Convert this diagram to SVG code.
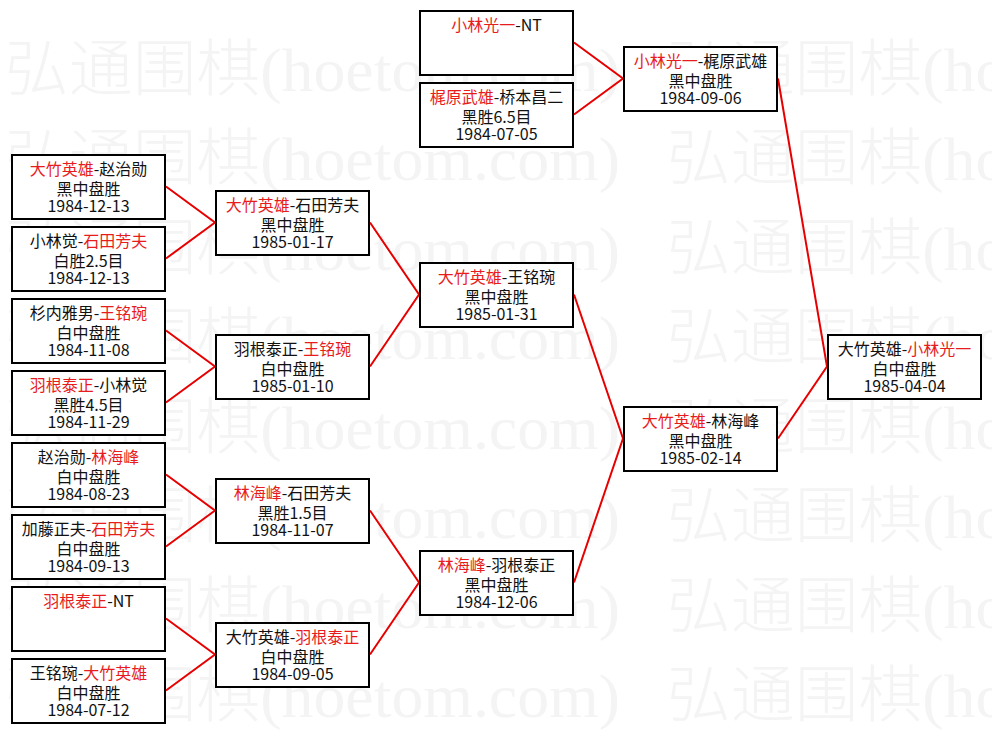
<svg xmlns="http://www.w3.org/2000/svg" width="992" height="733" viewBox="0 0 992 733">
<style>
.wm{font-family:"Liberation Serif","Noto Sans CJK SC",serif;font-size:62px;font-weight:300;fill:#f4f4f4}
.box{fill:#ffffff;stroke:#000000;stroke-width:2}
.t{font-family:"Noto Sans CJK SC",sans-serif;font-size:16px;fill:#111111;text-anchor:middle}
.r{fill:#e81c1c}
.ln{stroke:#e80000;stroke-width:2;fill:none}
</style>
<rect x="0" y="0" width="992" height="733" fill="#ffffff"/>
<g id="watermark">
<text class="wm" x="5" y="91" textLength="615" lengthAdjust="spacingAndGlyphs">弘通围棋(hoetom.com)</text>
<text class="wm" x="667" y="91" textLength="615" lengthAdjust="spacingAndGlyphs">弘通围棋(hoetom.com)</text>
<text class="wm" x="5" y="180" textLength="615" lengthAdjust="spacingAndGlyphs">弘通围棋(hoetom.com)</text>
<text class="wm" x="667" y="180" textLength="615" lengthAdjust="spacingAndGlyphs">弘通围棋(hoetom.com)</text>
<text class="wm" x="5" y="270" textLength="615" lengthAdjust="spacingAndGlyphs">弘通围棋(hoetom.com)</text>
<text class="wm" x="667" y="270" textLength="615" lengthAdjust="spacingAndGlyphs">弘通围棋(hoetom.com)</text>
<text class="wm" x="5" y="359" textLength="615" lengthAdjust="spacingAndGlyphs">弘通围棋(hoetom.com)</text>
<text class="wm" x="667" y="359" textLength="615" lengthAdjust="spacingAndGlyphs">弘通围棋(hoetom.com)</text>
<text class="wm" x="5" y="449" textLength="615" lengthAdjust="spacingAndGlyphs">弘通围棋(hoetom.com)</text>
<text class="wm" x="667" y="449" textLength="615" lengthAdjust="spacingAndGlyphs">弘通围棋(hoetom.com)</text>
<text class="wm" x="5" y="538" textLength="615" lengthAdjust="spacingAndGlyphs">弘通围棋(hoetom.com)</text>
<text class="wm" x="667" y="538" textLength="615" lengthAdjust="spacingAndGlyphs">弘通围棋(hoetom.com)</text>
<text class="wm" x="5" y="628" textLength="615" lengthAdjust="spacingAndGlyphs">弘通围棋(hoetom.com)</text>
<text class="wm" x="667" y="628" textLength="615" lengthAdjust="spacingAndGlyphs">弘通围棋(hoetom.com)</text>
<text class="wm" x="5" y="717" textLength="615" lengthAdjust="spacingAndGlyphs">弘通围棋(hoetom.com)</text>
<text class="wm" x="667" y="717" textLength="615" lengthAdjust="spacingAndGlyphs">弘通围棋(hoetom.com)</text>
</g>
<g id="connectors">
<path class="ln" d="M166 186.5L215 222.5L166 258.5"/>
<path class="ln" d="M166 330.5L215 366.5L166 402.5"/>
<path class="ln" d="M166 474.5L215 510.5L166 546.5"/>
<path class="ln" d="M166 618.5L215 654.5L166 690.5"/>
<path class="ln" d="M370 222.5L419 294.5L370 366.5"/>
<path class="ln" d="M370 510.5L419 582.5L370 654.5"/>
<path class="ln" d="M574 294.5L623 438.5L574 582.5"/>
<path class="ln" d="M574 42.5L623 78.5L574 114.5"/>
<path class="ln" d="M778 78.5L827 366.5L778 438.5"/>
</g>
<g id="r1a"><rect class="box" x="12" y="155" width="153" height="64"/>
<text class="t" x="88.5" y="175"><tspan class="r">大竹英雄</tspan>-赵治勋</text>
<text class="t" x="88.5" y="195">黑中盘胜</text>
<text class="t" x="88.5" y="212">1984-12-13</text></g>
<g id="r1b"><rect class="box" x="12" y="227" width="153" height="64"/>
<text class="t" x="88.5" y="247">小林觉-<tspan class="r">石田芳夫</tspan></text>
<text class="t" x="88.5" y="267">白胜2.5目</text>
<text class="t" x="88.5" y="284">1984-12-13</text></g>
<g id="r1c"><rect class="box" x="12" y="299" width="153" height="64"/>
<text class="t" x="88.5" y="319">杉内雅男-<tspan class="r">王铭琬</tspan></text>
<text class="t" x="88.5" y="339">白中盘胜</text>
<text class="t" x="88.5" y="356">1984-11-08</text></g>
<g id="r1d"><rect class="box" x="12" y="371" width="153" height="64"/>
<text class="t" x="88.5" y="391"><tspan class="r">羽根泰正</tspan>-小林觉</text>
<text class="t" x="88.5" y="411">黑胜4.5目</text>
<text class="t" x="88.5" y="428">1984-11-29</text></g>
<g id="r1e"><rect class="box" x="12" y="443" width="153" height="64"/>
<text class="t" x="88.5" y="463">赵治勋-<tspan class="r">林海峰</tspan></text>
<text class="t" x="88.5" y="483">白中盘胜</text>
<text class="t" x="88.5" y="500">1984-08-23</text></g>
<g id="r1f"><rect class="box" x="12" y="515" width="153" height="64"/>
<text class="t" x="88.5" y="535">加藤正夫-<tspan class="r">石田芳夫</tspan></text>
<text class="t" x="88.5" y="555">白中盘胜</text>
<text class="t" x="88.5" y="572">1984-09-13</text></g>
<g id="r1g"><rect class="box" x="12" y="587" width="153" height="64"/>
<text class="t" x="88.5" y="607"><tspan class="r">羽根泰正</tspan>-NT</text></g>
<g id="r1h"><rect class="box" x="12" y="659" width="153" height="64"/>
<text class="t" x="88.5" y="679">王铭琬-<tspan class="r">大竹英雄</tspan></text>
<text class="t" x="88.5" y="699">白中盘胜</text>
<text class="t" x="88.5" y="716">1984-07-12</text></g>
<g id="r2a"><rect class="box" x="216" y="191" width="153" height="64"/>
<text class="t" x="292.5" y="211"><tspan class="r">大竹英雄</tspan>-石田芳夫</text>
<text class="t" x="292.5" y="231">黑中盘胜</text>
<text class="t" x="292.5" y="248">1985-01-17</text></g>
<g id="r2b"><rect class="box" x="216" y="335" width="153" height="64"/>
<text class="t" x="292.5" y="355">羽根泰正-<tspan class="r">王铭琬</tspan></text>
<text class="t" x="292.5" y="375">白中盘胜</text>
<text class="t" x="292.5" y="392">1985-01-10</text></g>
<g id="r2c"><rect class="box" x="216" y="479" width="153" height="64"/>
<text class="t" x="292.5" y="499"><tspan class="r">林海峰</tspan>-石田芳夫</text>
<text class="t" x="292.5" y="519">黑胜1.5目</text>
<text class="t" x="292.5" y="536">1984-11-07</text></g>
<g id="r2d"><rect class="box" x="216" y="623" width="153" height="64"/>
<text class="t" x="292.5" y="643">大竹英雄-<tspan class="r">羽根泰正</tspan></text>
<text class="t" x="292.5" y="663">白中盘胜</text>
<text class="t" x="292.5" y="680">1984-09-05</text></g>
<g id="r3a"><rect class="box" x="420" y="263" width="153" height="64"/>
<text class="t" x="496.5" y="283"><tspan class="r">大竹英雄</tspan>-王铭琬</text>
<text class="t" x="496.5" y="303">黑中盘胜</text>
<text class="t" x="496.5" y="320">1985-01-31</text></g>
<g id="r3b"><rect class="box" x="420" y="551" width="153" height="64"/>
<text class="t" x="496.5" y="571"><tspan class="r">林海峰</tspan>-羽根泰正</text>
<text class="t" x="496.5" y="591">黑中盘胜</text>
<text class="t" x="496.5" y="608">1984-12-06</text></g>
<g id="q1"><rect class="box" x="420" y="11" width="153" height="64"/>
<text class="t" x="496.5" y="31"><tspan class="r">小林光一</tspan>-NT</text></g>
<g id="q2"><rect class="box" x="420" y="83" width="153" height="64"/>
<text class="t" x="496.5" y="103"><tspan class="r">梶原武雄</tspan>-桥本昌二</text>
<text class="t" x="496.5" y="123">黑胜6.5目</text>
<text class="t" x="496.5" y="140">1984-07-05</text></g>
<g id="r4a"><rect class="box" x="624" y="47" width="153" height="64"/>
<text class="t" x="700.5" y="67"><tspan class="r">小林光一</tspan>-梶原武雄</text>
<text class="t" x="700.5" y="87">黑中盘胜</text>
<text class="t" x="700.5" y="104">1984-09-06</text></g>
<g id="r4b"><rect class="box" x="624" y="407" width="153" height="64"/>
<text class="t" x="700.5" y="427"><tspan class="r">大竹英雄</tspan>-林海峰</text>
<text class="t" x="700.5" y="447">黑中盘胜</text>
<text class="t" x="700.5" y="464">1985-02-14</text></g>
<g id="final"><rect class="box" x="828" y="335" width="153" height="64"/>
<text class="t" x="904.5" y="355">大竹英雄-<tspan class="r">小林光一</tspan></text>
<text class="t" x="904.5" y="375">白中盘胜</text>
<text class="t" x="904.5" y="392">1985-04-04</text></g>
</svg>
